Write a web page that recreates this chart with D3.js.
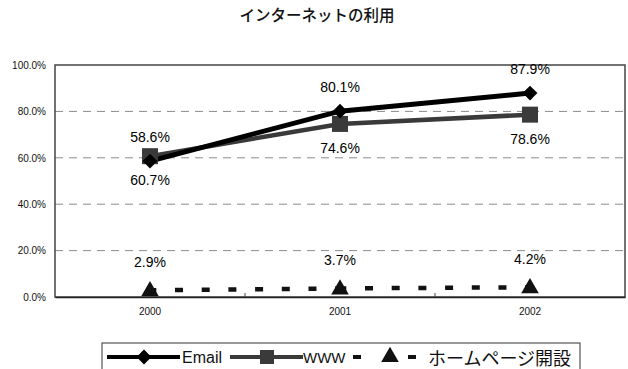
<!DOCTYPE html>
<html>
<head>
<meta charset="utf-8">
<script src="https://cdn.jsdelivr.net/npm/d3@7/dist/d3.min.js"></script>
<style>
  html, body { margin: 0; padding: 0; background: #fff; }
  svg { display: block; }
</style>
</head>
<body>
<svg id="chart" width="628" height="369"></svg>
<script>
// Internet usage rates by year
const years = ["2000", "2001", "2002"];
const emailValues = [58.6, 80.1, 87.9];
const wwwValues = [60.7, 74.6, 78.6];
const homepageValues = [2.9, 3.7, 4.2];
const seriesNames = ["Email", "WWW", "ホームページ開設"];
const yTicks = [0, 20, 40, 60, 80, 100];
const titleText = "インターネットの利用";

const svg = d3.select("#chart");
const latin = "'Liberation Sans', Arial, sans-serif";
const jp = "'Noto Sans CJK JP', sans-serif";

const plot = { left: 55, right: 625, top: 65, bottom: 297 };

const x = d3.scaleBand().domain(years).range([plot.left, plot.right]);
const cx = d => x(d) + x.bandwidth() / 2;
const y = d3.scaleLinear().domain([0, 100]).range([plot.bottom, plot.top]);

// Title
svg.append("text")
  .attr("x", 317).attr("y", 21)
  .attr("text-anchor", "middle")
  .style("font-family", jp).style("font-size", "15.5px").style("font-weight", "500")
  .attr("fill", "#111")
  .text(titleText);

// Horizontal dashed gridlines
svg.append("g").selectAll("line")
  .data(yTicks.filter(t => t > 0 && t < 100))
  .join("line")
  .attr("x1", plot.left).attr("x2", plot.right)
  .attr("y1", d => y(d)).attr("y2", d => y(d))
  .attr("stroke", "#8a8a8a").attr("stroke-width", 1)
  .attr("stroke-dasharray", "8,6");

// Plot border
svg.append("rect")
  .attr("x", plot.left).attr("y", plot.top)
  .attr("width", plot.right - plot.left).attr("height", plot.bottom - plot.top)
  .attr("fill", "none").attr("stroke", "#444").attr("stroke-width", 1.5);

// Y axis
const yAxis = d3.axisLeft(y).tickValues(yTicks)
  .tickFormat(d => d3.format(".1f")(d) + "%").tickSize(0).tickPadding(6);
const gy = svg.append("g").attr("transform", `translate(${plot.left},0)`).call(yAxis);
gy.select(".domain").remove();
gy.selectAll("text").style("font-family", latin).style("font-size", "10px")
  .attr("fill", "#111").attr("dx", -3);

// X axis
const xAxis = d3.axisBottom(x).tickSize(0).tickPadding(11);
const gx = svg.append("g").attr("transform", `translate(0,${plot.bottom})`).call(xAxis);
gx.select(".domain").attr("stroke", "#222").attr("stroke-width", 1.5);
gx.selectAll("text").style("font-family", latin).style("font-size", "10px").attr("fill", "#111");
// small category-boundary ticks pointing into the plot
gx.append("g").selectAll("line")
  .data(years.slice(1))
  .join("line")
  .attr("x1", d => x(d)).attr("x2", d => x(d))
  .attr("y1", 0).attr("y2", -4)
  .attr("stroke", "#444").attr("stroke-width", 1);

const line = d3.line().x((d, i) => cx(years[i])).y(d => y(d));

// Home page series: thick dashed segments, pattern restarting at each point
svg.append("g").selectAll("path")
  .data(d3.pairs(homepageValues.map((v, i) => [cx(years[i]), y(v)])))
  .join("path")
  .attr("d", d => d3.line()(d))
  .attr("fill", "none")
  .attr("stroke", "#111").attr("stroke-width", 4.5)
  .attr("stroke-dasharray", "8,18.7")
  .attr("stroke-dashoffset", 1.7);

const tri = d3.symbol().type(d3.symbolTriangle).size(135);
svg.append("g").selectAll("path")
  .data(homepageValues)
  .join("path")
  .attr("d", tri)
  .attr("transform", (d, i) => `translate(${cx(years[i])},${y(d) + 1})`)
  .attr("fill", "#111");

// WWW series
svg.append("path").datum(wwwValues)
  .attr("d", line).attr("fill", "none")
  .attr("stroke", "#3a3a3a").attr("stroke-width", 4.5);

// Email series
svg.append("path").datum(emailValues)
  .attr("d", line).attr("fill", "none")
  .attr("stroke", "#000").attr("stroke-width", 5);

svg.append("g").selectAll("rect")
  .data(wwwValues)
  .join("rect")
  .attr("x", (d, i) => cx(years[i]) - 8).attr("y", d => y(d) - 8)
  .attr("width", 16).attr("height", 16)
  .attr("fill", "#3a3a3a");

const diamond = d3.symbol().type(d3.symbolDiamond2).size(140);
svg.append("g").selectAll("path")
  .data(emailValues)
  .join("path")
  .attr("d", diamond)
  .attr("transform", (d, i) => `translate(${cx(years[i])},${y(d)})`)
  .attr("fill", "#000");

// Value labels
function labels(values, dy) {
  svg.append("g").selectAll("text")
    .data(values)
    .join("text")
    .attr("x", (d, i) => cx(years[i]))
    .attr("y", d => y(d) + dy)
    .attr("text-anchor", "middle")
    .attr("dominant-baseline", "central")
    .style("font-family", latin).style("font-size", "14px")
    .attr("fill", "#000")
    .text(d => d3.format(".1f")(d) + "%");
}
labels(emailValues, -24);
labels(wwwValues, 24);
labels(homepageValues, -28);

// Legend
const lg = svg.append("g");
lg.append("rect")
  .attr("x", 102).attr("y", 343).attr("width", 478).attr("height", 30)
  .attr("fill", "#fff").attr("stroke", "#333").attr("stroke-width", 1);
const ly = 357;

lg.append("line").attr("x1", 107).attr("x2", 180).attr("y1", ly).attr("y2", ly)
  .attr("stroke", "#000").attr("stroke-width", 4);
lg.append("path").attr("d", diamond).attr("transform", `translate(144,${ly})`).attr("fill", "#000");
lg.append("text").attr("x", 182).attr("y", ly).attr("dominant-baseline", "central")
  .style("font-family", latin).style("font-size", "16px").attr("fill", "#111").text(seriesNames[0]);

lg.append("line").attr("x1", 230).attr("x2", 303).attr("y1", ly).attr("y2", ly)
  .attr("stroke", "#3a3a3a").attr("stroke-width", 4);
lg.append("rect").attr("x", 260).attr("y", ly - 7).attr("width", 14).attr("height", 14).attr("fill", "#3a3a3a");
lg.append("text").attr("x", 303).attr("y", ly).attr("dominant-baseline", "central")
  .style("font-family", latin).style("font-size", "15px").attr("fill", "#111").text(seriesNames[1]);

lg.append("line").attr("x1", 353).attr("x2", 361).attr("y1", ly).attr("y2", ly)
  .attr("stroke", "#111").attr("stroke-width", 4);
lg.append("line").attr("x1", 408).attr("x2", 416).attr("y1", ly).attr("y2", ly)
  .attr("stroke", "#111").attr("stroke-width", 4);
lg.append("path").attr("d", tri).attr("transform", `translate(390,${ly})`).attr("fill", "#111");
lg.append("text").attr("x", 428).attr("y", ly).attr("dominant-baseline", "central")
  .style("font-family", jp).style("font-size", "18px").attr("fill", "#111").text(seriesNames[2]);
</script>
</body>
</html>
